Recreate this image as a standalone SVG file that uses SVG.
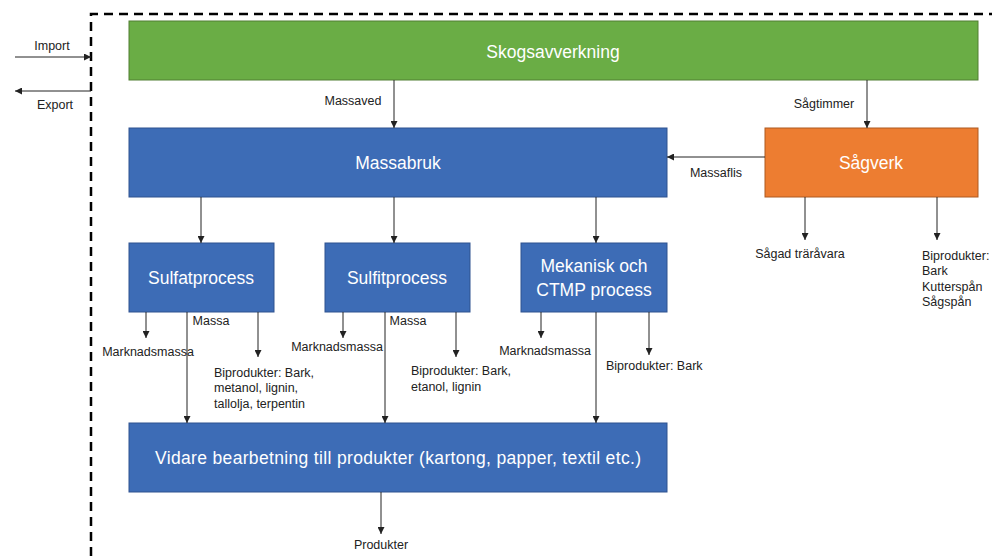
<svg xmlns="http://www.w3.org/2000/svg" width="992" height="556" viewBox="0 0 992 556">
<style>
.box{stroke-width:1}
.blue{fill:#3D6CB6;stroke:#2F528F}
.green{fill:#6AAD45;stroke:#507E32}
.orange{fill:#ED7D31;stroke:#AE5A21}
.bt{font-family:"Liberation Sans",Arial,sans-serif;font-size:17.5px;fill:#fff;text-anchor:middle}
.lb{font-family:"Liberation Sans",Arial,sans-serif;font-size:12.5px;fill:#222}
.c{text-anchor:middle}
.ln{stroke:#222;stroke-width:1;fill:none;marker-end:url(#ah)}
</style>
<defs>
<marker id="ah" viewBox="0 0 10 10" refX="10" refY="5" markerWidth="7" markerHeight="7" markerUnits="userSpaceOnUse" orient="auto">
<path d="M0,0 L10,5 L0,10 z" fill="#222"/>
</marker>
</defs>
<rect width="992" height="556" fill="#fff"/>
<g id="boundary">
<path d="M91,556 L91,14 L992,14" fill="none" stroke="#000" stroke-width="2.5" stroke-dasharray="9,6"/>
</g>
<g id="skogsavverkning"><rect class="box green" x="129" y="21" width="849" height="59"/><text class="bt" x="553" y="58">Skogsavverkning</text></g>
<g id="massabruk"><rect class="box blue" x="129" y="128" width="538" height="69"/><text class="bt" x="398" y="169">Massabruk</text></g>
<g id="sagverk"><rect class="box orange" x="765" y="128" width="213" height="69"/><text class="bt" x="871" y="169">Sågverk</text></g>
<g id="sulfat"><rect class="box blue" x="129" y="243" width="145" height="69"/><text class="bt" x="201" y="284">Sulfatprocess</text></g>
<g id="sulfit"><rect class="box blue" x="325" y="243" width="145" height="69"/><text class="bt" x="397" y="284">Sulfitprocess</text></g>
<g id="mekanisk"><rect class="box blue" x="521" y="243" width="146" height="69"/><text class="bt" x="594" y="272">Mekanisk och</text><text class="bt" x="594" y="296">CTMP process</text></g>
<g id="vidare"><rect class="box blue" x="129" y="423" width="538" height="69"/><text class="bt" x="398" y="464" textLength="486" lengthAdjust="spacing">Vidare bearbetning till produkter (kartong, papper, textil etc.)</text></g>
<g id="connectors">
<line class="ln" x1="15" y1="57" x2="91" y2="57"/>
<line class="ln" x1="91" y1="91" x2="15" y2="91"/>
<line class="ln" x1="394" y1="80" x2="394" y2="128"/>
<line class="ln" x1="867" y1="80" x2="867" y2="128"/>
<line class="ln" x1="765" y1="157" x2="667" y2="157"/>
<line class="ln" x1="201" y1="197" x2="201" y2="243"/>
<line class="ln" x1="394" y1="197" x2="394" y2="243"/>
<line class="ln" x1="596" y1="197" x2="596" y2="243"/>
<line class="ln" x1="146" y1="312" x2="146" y2="338"/>
<line class="ln" x1="187" y1="312" x2="187" y2="423"/>
<line class="ln" x1="258" y1="312" x2="258" y2="357"/>
<line class="ln" x1="343" y1="312" x2="343" y2="338"/>
<line class="ln" x1="385" y1="312" x2="385" y2="423"/>
<line class="ln" x1="456" y1="312" x2="456" y2="357"/>
<line class="ln" x1="541" y1="312" x2="541" y2="338"/>
<line class="ln" x1="596" y1="312" x2="596" y2="423"/>
<line class="ln" x1="649" y1="312" x2="649" y2="355"/>
<line class="ln" x1="805" y1="197" x2="805" y2="240"/>
<line class="ln" x1="937" y1="197" x2="937" y2="240"/>
<line class="ln" x1="381" y1="492" x2="381" y2="534"/>
</g>
<g id="labels">
<text class="lb c" x="52" y="50">Import</text>
<text class="lb c" x="55" y="109">Export</text>
<text class="lb c" x="353" y="105">Massaved</text>
<text class="lb c" x="824" y="108">Sågtimmer</text>
<text class="lb c" x="716" y="177">Massaflis</text>
<text class="lb c" x="148" y="356">Marknadsmassa</text>
<text class="lb c" x="211" y="325">Massa</text>
<text class="lb" x="214" y="377">Biprodukter: Bark,</text>
<text class="lb" x="214" y="392">metanol, lignin,</text>
<text class="lb" x="214" y="408">tallolja, terpentin</text>
<text class="lb c" x="337" y="351">Marknadsmassa</text>
<text class="lb c" x="408" y="325">Massa</text>
<text class="lb" x="411" y="375">Biprodukter: Bark,</text>
<text class="lb" x="411" y="391">etanol, lignin</text>
<text class="lb c" x="545" y="355">Marknadsmassa</text>
<text class="lb" x="606" y="370">Biprodukter: Bark</text>
<text class="lb c" x="800" y="258">Sågad träråvara</text>
<text class="lb" x="922" y="260">Biprodukter:</text>
<text class="lb" x="922" y="275">Bark</text>
<text class="lb" x="922" y="291">Kutterspån</text>
<text class="lb" x="922" y="306">Sågspån</text>
<text class="lb c" x="381" y="549">Produkter</text>
</g>
</svg>
